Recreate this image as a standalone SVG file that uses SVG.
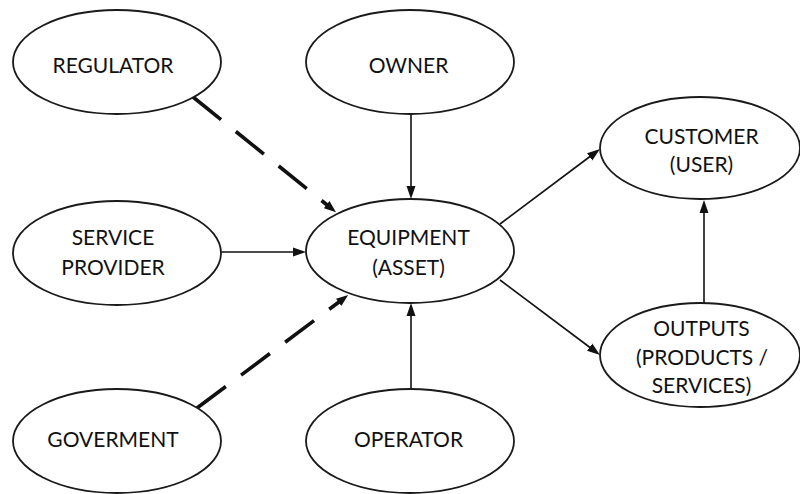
<svg xmlns="http://www.w3.org/2000/svg" width="800" height="494" viewBox="0 0 800 494">
  <style>
    .node ellipse { fill: #ffffff; stroke: #1a1a1a; stroke-width: 1.8; }
    .node text { font-family: Lato, "Liberation Sans", sans-serif; font-size: 21px; fill: #111111; text-anchor: middle; }
    .link { fill: none; stroke: #111111; stroke-width: 1.6; }
    .dash { fill: none; stroke: #111111; stroke-width: 3.6; stroke-dasharray: 36 19; }
  </style>
  <defs>
    <marker id="head" viewBox="0 0 13 10" refX="3" refY="5" markerWidth="13" markerHeight="10" markerUnits="userSpaceOnUse" orient="auto">
      <path d="M0,0.5 L13,5 L0,9.5 z" fill="#111111"/>
    </marker>
    <marker id="headBold" viewBox="0 0 12 10" refX="3" refY="5" markerWidth="12" markerHeight="10" markerUnits="userSpaceOnUse" orient="auto">
      <path d="M0,0.5 L12,5 L0,9.5 z" fill="#111111"/>
    </marker>
  </defs>

  <rect width="800" height="494" fill="#ffffff"/>

  <g id="connectors">
    <!-- dashed influences -->
    <path class="dash" d="M193,97 L329,206.5" marker-end="url(#headBold)"/>
    <path class="dash" d="M197,408 L341,300.5" marker-end="url(#headBold)"/>
    <!-- solid flows -->
    <path class="link" d="M411,114 L411,189" marker-end="url(#head)"/>
    <path class="link" d="M221,252 L296,252" marker-end="url(#head)"/>
    <path class="link" d="M411,389 L411,313" marker-end="url(#head)"/>
    <path class="link" d="M500,224 L592,155" marker-end="url(#head)"/>
    <path class="link" d="M500,280 L592,349" marker-end="url(#head)"/>
    <path class="link" d="M704,303 L704,210" marker-end="url(#head)"/>
  </g>

  <g id="regulator" class="node">
    <ellipse cx="117" cy="62" rx="104" ry="52"/>
    <text x="113" y="73">REGULATOR</text>
  </g>
  <g id="owner" class="node">
    <ellipse cx="410" cy="62" rx="104" ry="52"/>
    <text x="408.5" y="73">OWNER</text>
  </g>
  <g id="service-provider" class="node">
    <ellipse cx="117" cy="253" rx="104" ry="52"/>
    <text x="113" y="245">SERVICE</text>
    <text x="113" y="275">PROVIDER</text>
  </g>
  <g id="equipment" class="node">
    <ellipse cx="410" cy="251" rx="104" ry="52"/>
    <text x="408.5" y="245">EQUIPMENT</text>
    <text x="408.5" y="275">(ASSET)</text>
  </g>
  <g id="customer" class="node">
    <ellipse cx="700" cy="148" rx="100" ry="51"/>
    <text x="701.5" y="144">CUSTOMER</text>
    <text x="701.5" y="172">(USER)</text>
  </g>
  <g id="outputs" class="node">
    <ellipse cx="700" cy="355" rx="100" ry="52"/>
    <text x="701.5" y="336">OUTPUTS</text>
    <text x="702" y="365">(PRODUCTS /</text>
    <text x="701.5" y="393">SERVICES)</text>
  </g>
  <g id="goverment" class="node">
    <ellipse cx="117" cy="441" rx="104" ry="52"/>
    <text x="113" y="447">GOVERMENT</text>
  </g>
  <g id="operator" class="node">
    <ellipse cx="410" cy="441" rx="104" ry="52"/>
    <text x="408.5" y="447">OPERATOR</text>
  </g>
</svg>
